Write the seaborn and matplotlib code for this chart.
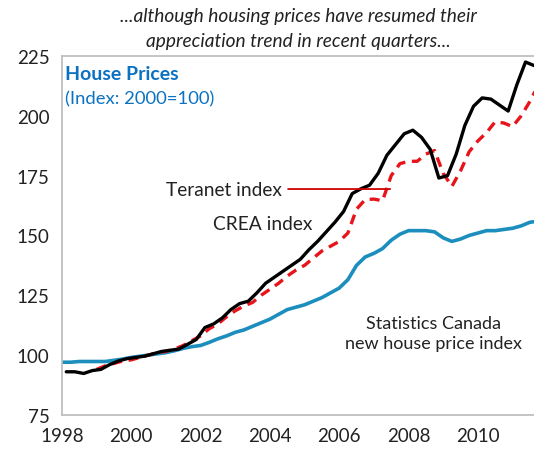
import numpy as np
import pandas as pd
import matplotlib
matplotlib.use("Agg")
import matplotlib.pyplot as plt
import seaborn as sns

# quarterly readings (decimal years)
crea_start = 1998.125
crea = [93, 93, 92.3, 93.5, 94, 96, 97.5, 98.5,
        99, 99.5, 100.5, 101.5, 102, 102.5, 104.5, 106.5,
        111.5, 113, 115.5, 119, 121.5, 122.5, 126, 130,
        132.5, 135, 137.5, 140, 144, 147.5, 151.5, 155.5,
        160, 167.5, 169.5, 171, 176, 183.5, 188, 192.5,
        194, 191, 186, 174, 175, 184, 196, 204,
        207.5, 207, 204.5, 202, 213, 222.5, 221]

teranet_start = 1999.0
teranet = [94, 95.5, 96.5, 97.5, 98, 99, 100, 101,
           101.5, 102.5, 104, 106, 108, 111, 113, 116,
           118.5, 120.5, 122, 125, 127.5, 130, 133, 135.5,
           137.5, 140.5, 143.5, 145.5, 147.5, 151, 161, 165,
           165.2, 164.5, 175, 180, 181, 181, 184, 185.5,
           176, 170.5, 177, 185, 189.5, 193, 197.5, 197,
           195.5, 200, 206, 213]

statcan_start = 1998.0
statcan = [97, 97, 97.3, 97.3, 97.3, 97.3, 97.8, 98.3,
           99, 99.5, 100, 100.5, 101, 101.8, 102.8, 103.5,
           104, 105.3, 106.8, 108, 109.5, 110.5, 112, 113.5,
           115, 117, 119, 120, 121, 122.5, 124, 126,
           128, 131.5, 137.5, 141, 142.5, 144.5, 148, 150.5,
           152, 152, 152, 151.5, 149, 147.5, 148.5, 150,
           151, 152, 152, 152.5, 153, 154, 155.5, 156]

x_ticks = [1998, 2000, 2002, 2004, 2006, 2008, 2010]
y_ticks = [75, 100, 125, 150, 175, 200, 225]


def frame(start, vals, name):
    return pd.DataFrame({"year": start + 0.25 * np.arange(len(vals)),
                         "value": vals, "series": name})


df = pd.concat([frame(crea_start, crea, "CREA"),
                frame(teranet_start, teranet, "Teranet"),
                frame(statcan_start, statcan, "StatCan")])

sns.set_style("white")
plt.rcParams['font.family'] = ['Lato', 'DejaVu Sans']

fig = plt.figure(figsize=(5.34, 4.6), dpi=100)
ax = fig.add_axes([0.116, 0.096, 0.884, 0.78])

grey = "#BFBFBF"
blue = "#1C8EBE"
sns.lineplot(data=df[df.series == "StatCan"], x="year", y="value", color=blue, lw=2.6, ax=ax)
sns.lineplot(data=df[df.series == "Teranet"], x="year", y="value", color="#E8141B", lw=2.4, ax=ax,
             dashes=False, linestyle=(0, (3, 2)))
sns.lineplot(data=df[df.series == "CREA"], x="year", y="value", color="black", lw=2.4, ax=ax)

ax.set_xlim(1998, 2011.62)
ax.set_ylim(75, 225)
ax.set_xticks(x_ticks)
ax.set_yticks(y_ticks)
ax.set_xlabel("")
ax.set_ylabel("")
ax.tick_params(axis="both", direction="out", length=5, width=1.3, color=grey,
               labelsize=13.5, labelcolor="#222222", pad=4)
for side in ["left", "bottom", "top"]:
    ax.spines[side].set_color(grey)
    ax.spines[side].set_linewidth(1.3)
ax.spines["right"].set_visible(False)

# titles and labels
fig.text(0.558, 0.965, "...although housing prices have resumed their",
         ha="center", va="center", fontsize=13.8, style="italic", color="#222222")
fig.text(0.558, 0.910, "appreciation trend in recent quarters...",
         ha="center", va="center", fontsize=13.8, style="italic", color="#222222")
ax.text(1998.1, 217.5, "House Prices", fontsize=14, fontweight="bold", color="#0B72C2", va="center")
ax.text(1998.1, 207.3, "(Index: 2000=100)", fontsize=13.3, color="#0B72C2", va="center")

ax.annotate("Teranet index", xy=(2007.47, 169.4), xytext=(2004.35, 169.4),
            ha="right", va="center", fontsize=13.8, color="#222222",
            arrowprops=dict(arrowstyle="-", color="#D40000", lw=1.3, shrinkA=2, shrinkB=0))
ax.text(2002.36, 154.8, "CREA index", fontsize=13.8, color="#222222", va="center")
ax.text(2008.72, 109.2, "Statistics Canada\nnew house price index", fontsize=13,
        color="#222222", ha="center", va="center", linespacing=1.25)

fig.savefig("out.png", dpi=100)
